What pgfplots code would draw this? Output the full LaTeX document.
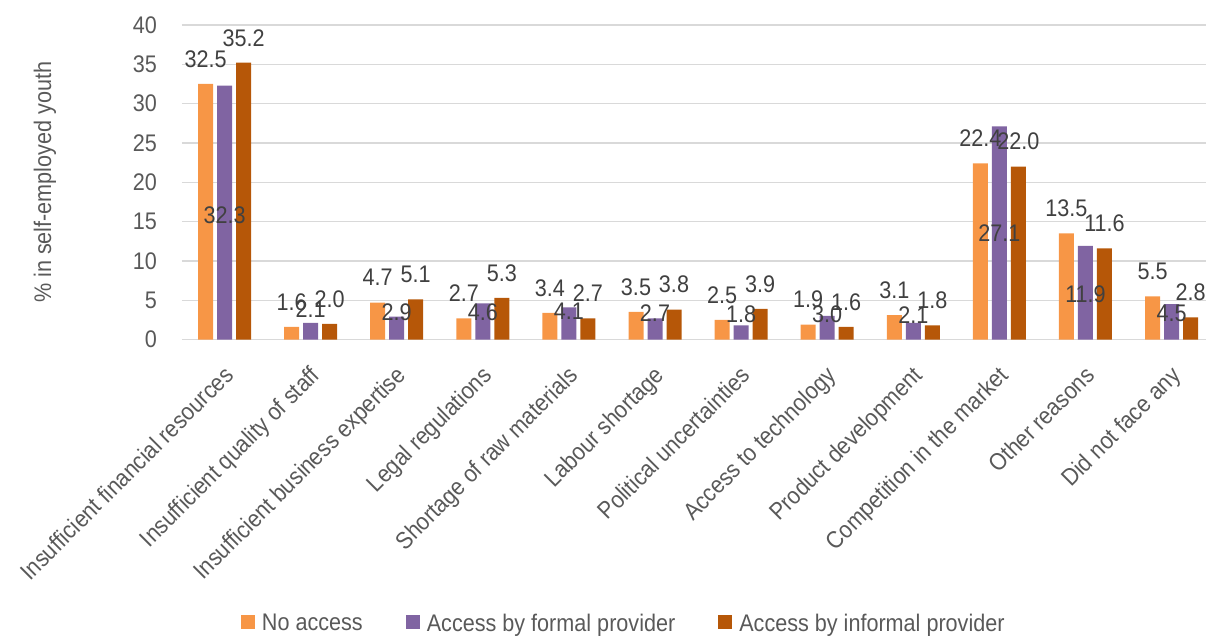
\documentclass[border=0pt]{standalone}
\usepackage{fontspec}
\setmainfont{Liberation Sans}[FakeStretch=0.9]
\usepackage{pgfplots}
\usepackage{pgfplotstable}
\pgfplotsset{compat=1.18}
\definecolor{cA}{HTML}{F79646}
\definecolor{cB}{HTML}{8064A2}
\definecolor{cC}{HTML}{B65708}
\definecolor{lbl}{HTML}{404040}
\definecolor{txt}{HTML}{595959}
\definecolor{grd}{HTML}{D9D9D9}

\pgfplotstableread{
x y
0 32.5
1 1.6
2 4.7
3 2.7
4 3.4
5 3.5
6 2.5
7 1.9
8 3.1
9 22.4
10 13.5
11 5.5
}\noacc

\pgfplotstableread{
x y ly
0 32.3 15.8
1 2.1 3.9
2 2.9 3.5
3 4.6 3.5
4 4.1 3.6
5 2.7 3.3
6 1.8 3.2
7 3.0 3.2
8 2.1 3.06
9 27.1 13.5
10 11.9 5.8
11 4.5 3.3
}\formal

\pgfplotstableread{
x y
0 35.2
1 2.0
2 5.1
3 5.3
4 2.7
5 3.8
6 3.9
7 1.6
8 1.8
9 22.0
10 11.6
11 2.8
}\informal

\begin{document}
\begin{tikzpicture}[font=\fontsize{24}{28}\selectfont]
\useasboundingbox (-182pt,-297.5pt) rectangle (1024pt,339.5pt);
\begin{axis}[
  at={(0,0)}, anchor=south west,
  scale only axis, width=1024pt, height=314.5pt,
  ybar=4pt, bar width=15pt,
  xmin=-0.494, xmax=11.4, ymin=0, ymax=40,
  ytick={0,5,...,40},
  xtick={0,...,11},
  xticklabels={Insufficient financial resources,Insufficient quality of staff,Insufficient business expertise,Legal regulations,Shortage of raw materials,Labour shortage,Political uncertainties,Access to technology,Product development,Competition in the market,Other reasons,Did not face any},
  ymajorgrids, grid style={grd, line width=1.3pt},
  axis line style={draw=none},
  major tick length=0pt,
  /pgf/number format/assume math mode=true,
  yticklabel style={text=txt, inner sep=0pt, xshift=-25pt, anchor=east},
  xticklabel style={text=txt, inner sep=0pt, xshift=-2pt, yshift=-25pt, rotate=45, anchor=north east},
  ylabel={\% in self-employed youth},
  every axis y label/.style={at={(axis description cs:-0.1338,0.5)}, rotate=90, anchor=center, text=txt},
  legend image code/.code={\fill[#1] (0pt,-5.2pt) rectangle (14pt,8.8pt);},
  legend style={at={(axis description cs:0.0576,-0.933)}, anchor=south west, draw=none, fill=none,
    inner sep=0pt, outer sep=0pt, legend columns=3, nodes={inner sep=0pt, text=txt},
    /tikz/every odd column/.append style={column sep=7pt},
    /tikz/every even column/.append style={column sep=43pt}},
  legend cell align=left,
  nodes near coords={\pgfmathprintnumber[fixed,fixed zerofill,precision=1]{\pgfplotspointmeta}},
  every node near coord/.append style={text=lbl, inner sep=0pt},
  clip=false,
]
\addplot[fill=cA, draw=none, nodes near coords style={anchor=center, yshift=25pt}] table[x=x,y=y]{\noacc};
\addplot[fill=cB, draw=none, visualization depends on={\thisrow{ly}-\thisrow{y} \as \dly},
  nodes near coords style={anchor=center, yshift=\dly*7.8625pt}] table[x=x,y=y]{\formal};
\addplot[fill=cC, draw=none, nodes near coords style={anchor=center, yshift=25pt}] table[x=x,y=y]{\informal};
\legend{No access, Access by formal provider, Access by informal provider}
\end{axis}
\end{tikzpicture}
\end{document}
